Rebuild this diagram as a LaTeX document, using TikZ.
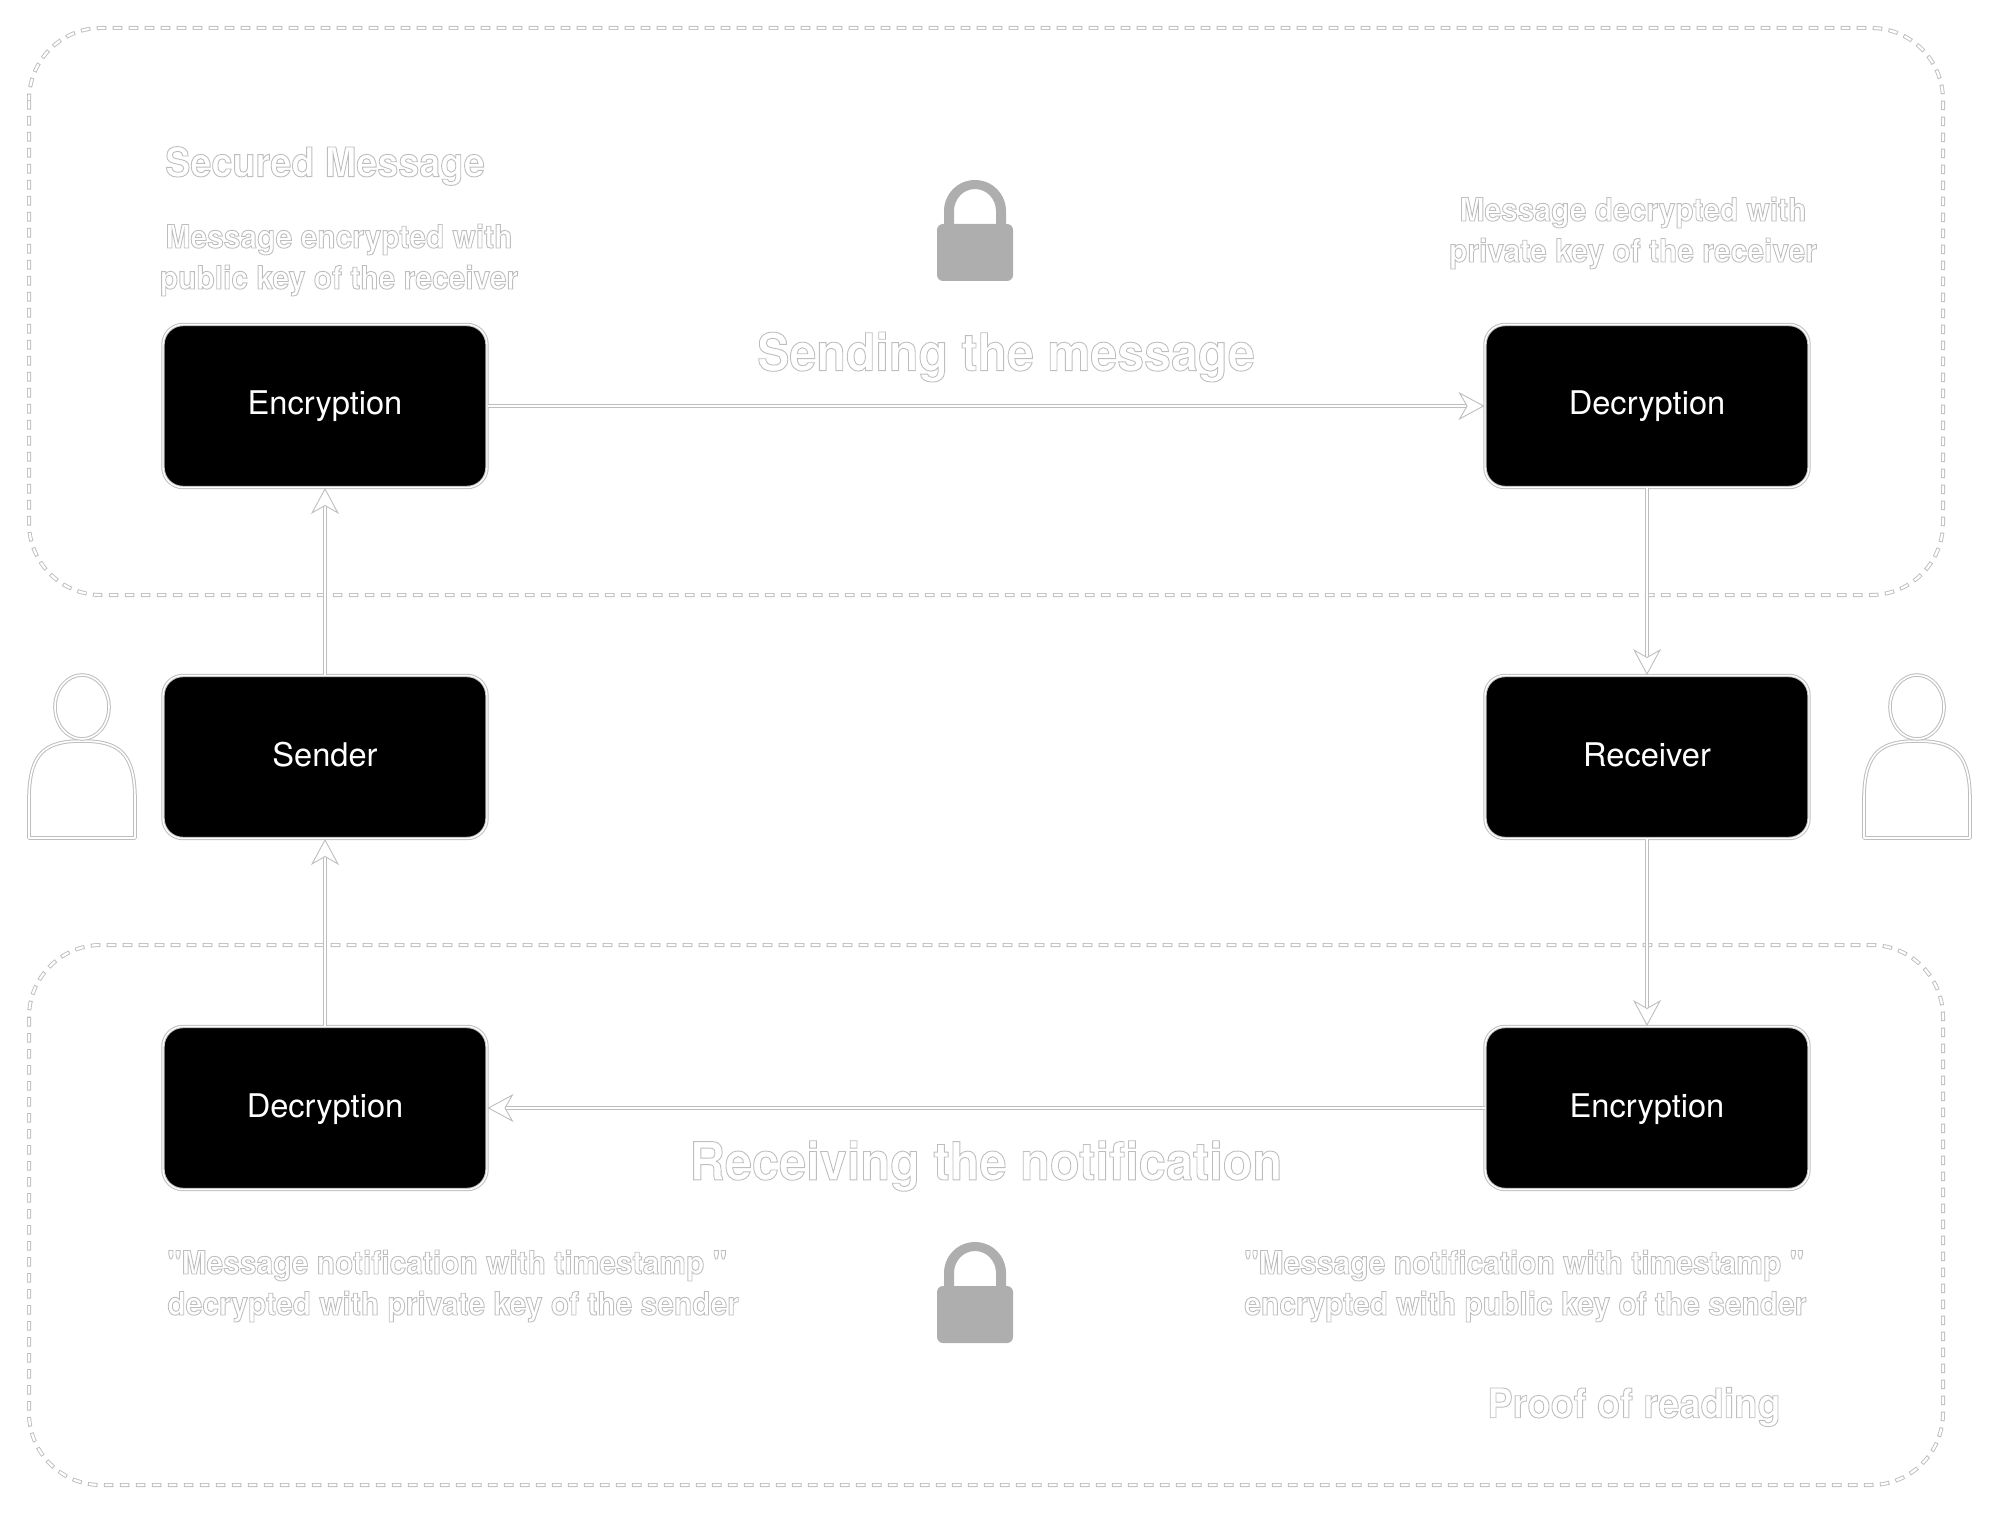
\documentclass[tikz,border=0pt]{standalone}
\usepackage{fontspec}
\setmainfont[Ligatures=TeXOff]{TeX Gyre Heros}
\newfontfamily\hollowfont[Ligatures=TeXOff, FakeStretch=0.93]{TeX Gyre Heros Bold}
\usetikzlibrary{arrows.meta}

\definecolor{edgegray}{HTML}{BEBEBE}
\definecolor{lockgray}{HTML}{AEAEAE}

\tikzset{
  stagebox/.style={fill=black, draw=edgegray, line width=0.5pt, double=white, double distance=0.7pt,
    rounded corners=10pt, minimum width=162pt, minimum height=81.5pt, inner sep=0pt,
    text=white, font=\fontsize{16.3}{20}\selectfont, text height=12pt, text depth=3pt},
  link/.style={draw=edgegray, line width=0.45pt, double=white, double distance=0.8pt,
    -{Stealth[open, fill=white, length=13pt, width=14pt, inset=4pt]}},
  zone/.style={draw=edgegray, line width=2pt, dash pattern=on 4.8pt off 3.2pt, rounded corners=36pt,
    postaction={draw=white, line width=1.1pt, dash pattern=on 3.8pt off 4.2pt, dash phase=7.5pt}},
  hollow/.style={text=edgegray, align=left, inner sep=0pt,
    execute at begin node=\special{pdf:code 1 Tr 0.45 w},
    execute at end node=\special{pdf:code 0 Tr 1 w}},
  note/.style={hollow, font=\hollowfont\fontsize{16.1}{20.5}\selectfont},
  title/.style={hollow, font=\hollowfont\fontsize{20.3}{24}\selectfont},
  banner/.style={hollow, font=\hollowfont\fontsize{26}{30}\selectfont},
  padlock/.pic={
    \fill[lockgray, rounded corners=3pt] (-38,44) rectangle (38,101);
    \fill[lockgray, even odd rule] (-31,46) -- (-31,31) arc (180:360:31) -- (31,46) -- cycle
      (-21,46) -- (-21,31) arc (180:360:21 and 22) -- (21,46) -- cycle;
  },
  person/.pic={
    \draw[draw=edgegray, line width=0.5pt, double=white, double distance=0.8pt, line join=round]
      (-53,164) -- (-53,122) .. controls (-52,78) and (-36,67) .. (0,67)
      .. controls (36,67) and (52,78) .. (53,122) -- (53,164) -- cycle;
    \draw[draw=edgegray, line width=0.5pt, double=white, double distance=0.8pt]
      (0,33) ellipse (27 and 32);
  }
}

\begin{document}
\begin{tikzpicture}[x=0.5pt, y=-0.5pt]
\useasboundingbox (0,0) rectangle (1999,1514);

% The zones
\draw[zone] (29,28) rectangle (1943,595);
\draw[zone] (29,945) rectangle (1943,1485);

% The stages
\node[stagebox] (encsend) at (325,406) {Encryption};
\node[stagebox] (decsend) at (1647,406) {Decryption};
\node[stagebox] (sender) at (325,757) {Sender};
\node[stagebox] (receiver) at (1647,757) {Receiver};
\node[stagebox] (decback) at (325,1108) {Decryption};
\node[stagebox] (encback) at (1647,1108) {Encryption};

% The links
\draw[link] (sender) -- (encsend);
\draw[link] (encsend) -- (decsend);
\draw[link] (decsend) -- (receiver);
\draw[link] (receiver) -- (encback);
\draw[link] (encback) -- (decback);
\draw[link] (decback) -- (sender);

% The people and locks
\pic at (82,674) {person};
\pic at (1917,674) {person};
\pic at (975,180) {padlock};
\pic at (975,1242) {padlock};

% The texts
\node[title] (secured) at (325,166) {Secured Message};
\node[note, align=center] (encnote) at (339,260) {Message encrypted with\\public key of the receiver};
\node[note, align=center] (decnote) at (1633,233) {Message decrypted with\\private key of the receiver};
\node[banner] (sending) at (1006,357) {Sending the message};
\node[banner, font=\hollowfont\fontsize{26.2}{30}\selectfont] (receiving) at (986,1166) {Receiving the notification};
\node[note, anchor=west] (decback note) at (167,1286) {"Message notification with timestamp "\\decrypted with private key of the sender};
\node[note, anchor=west] (encback note) at (1244,1286) {"Message notification with timestamp "\\encrypted with public key of the sender};
\node[title, font=\hollowfont\fontsize{20.4}{24}\selectfont] (proof) at (1634,1407) {Proof of reading};

\end{tikzpicture}
\end{document}
